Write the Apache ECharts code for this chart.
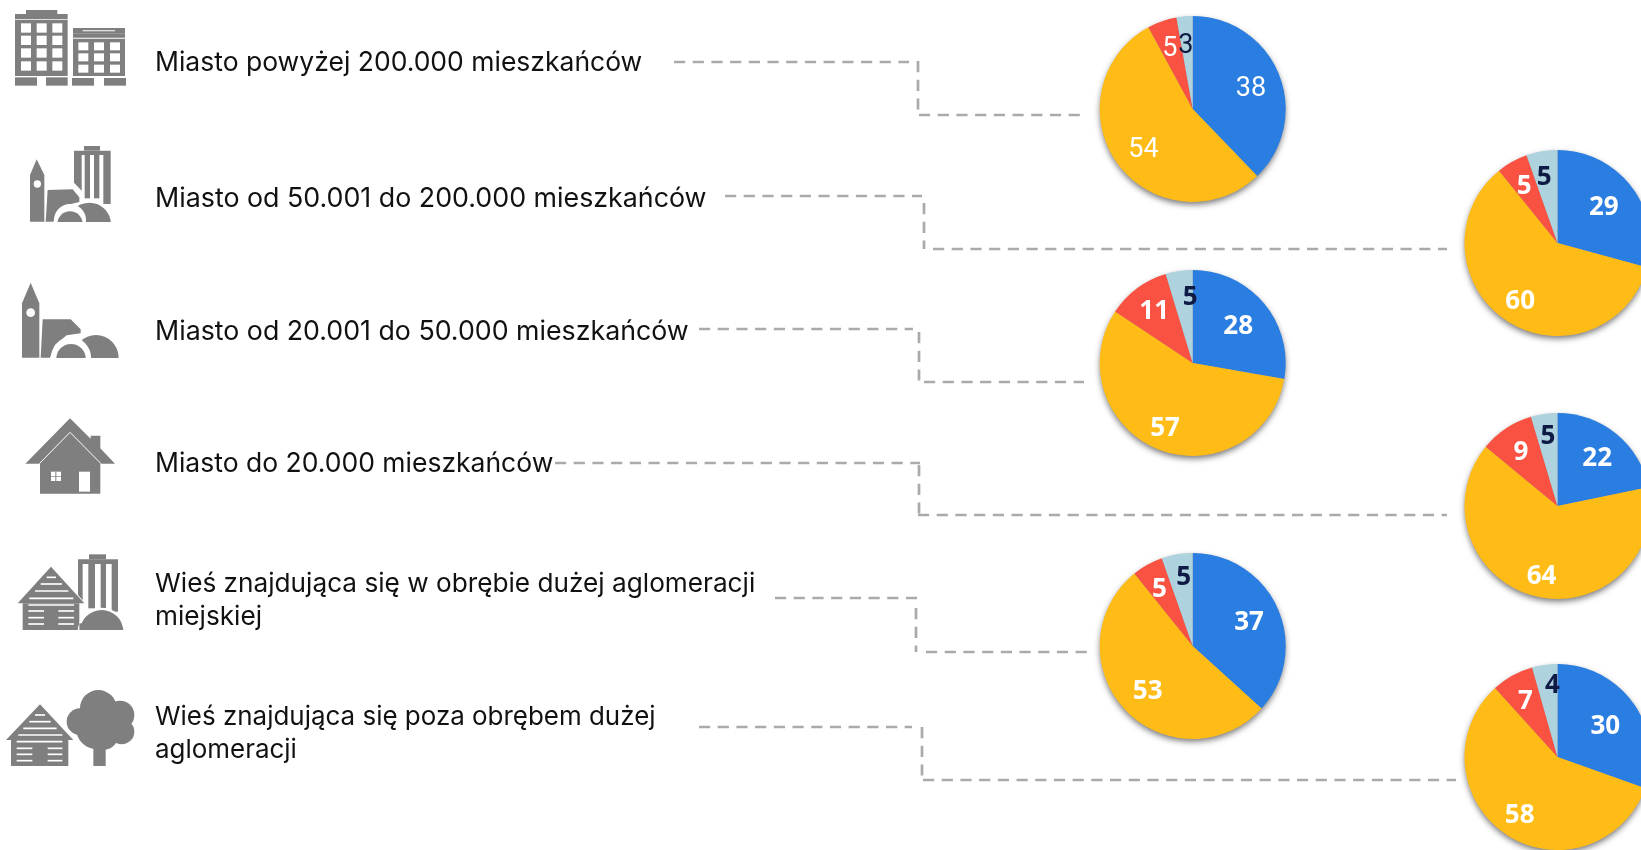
<!DOCTYPE html>
<html><head><meta charset="utf-8">
<style>html,body{margin:0;padding:0;background:#fff}#c{width:1641px;height:850px}</style>
<script src="https://cdn.jsdelivr.net/npm/echarts@6/dist/echarts.min.js"></script>
</head><body><div id="c"></div>
<script>
const categories = [
  'Miasto powyżej 200.000 mieszkańców',
  'Miasto od 50.001 do 200.000 mieszkańców',
  'Miasto od 20.001 do 50.000 mieszkańców',
  'Miasto do 20.000 mieszkańców',
  'Wieś znajdująca się w obrębie dużej aglomeracji\nmiejskiej',
  'Wieś znajdująca się poza obrębem dużej\naglomeracji'
];
// values; the printed labels are these values rounded
const blueValues   = [37.8, 29.2, 27.8, 21.7, 36.8, 30.4];
const yellowValues = [54.3, 59.9, 56.6, 64.1, 52.6, 57.8];
const redValues    = [ 5.1,  5.4, 11.0,  9.4,  5.4,  7.3];
const lightValues  = [ 2.8,  5.4,  4.7,  4.6,  5.4,  4.4];
const sliceColors = ['#2a7de1', '#ffbc17', '#f95142', '#aed3de'];
const labelColors = ['#ffffff', '#ffffff', '#ffffff', '#0f1b45'];

const pieCenters = [[1192.7,109],[1557.5,243],[1192.7,363],[1557.5,506],[1192.7,646],[1557.5,757]];
const R = 93;
const textY = [63.5,198.5,331.5,464.5,600.5,733.5];
const textSizes = [26.5,26.8,26.75,26.5,26.2,25.95];
// x0, y0, vertical x, y1, x1, end of first run, start of vertical, start of last run
const connectors = [
  [674,62,918,115,1080,909,61,919],[725,196,924,249,1447,922,203,933],[699,329,919,382,1084,913,332,924],
  [555,463,919,515,1447,920,465,918],[775,598,916,652,1087,917,608,926],[699,727,922,780,1456,912,727,923]
];
// small label shifts (px) from the mid-radius position, per slice
const labelShifts = [
  [[-3,5],[4,2],[-1,3],[-1,3]],
  [[-6,5],[-1,3],[-1,1],[-2,0]],
  [[-5,6],[-3,4],[1,2],[7,0]],
  [[-2,4],[0,6],[0,2],[0,-4]],
  [[-4,3],[3,0],[-1,1],[2,-3]],
  [[-6,7],[-1,3],[0,2],[4,-6]]
];

const GRAY = '#7f7f7f', W = '#ffffff';
const series = [];
pieCenters.forEach((center, i) => {
  const data = [blueValues[i], yellowValues[i], redValues[i], lightValues[i]];
  const base = {type:'pie', center, startAngle:90, clockwise:true, silent:true, animation:false,
    avoidLabelOverlap:false, labelLine:{show:false}, emphasis:{disabled:true}};
  series.push(Object.assign({}, base, {radius:[0,R-0.5], z:1, label:{show:false},
    data:[{value:1, itemStyle:{color:'#999', shadowBlur:6, shadowOffsetY:3, shadowOffsetX:0, shadowColor:'rgba(0,0,0,0.55)'}}]}));
  series.push(Object.assign({}, base, {radius:[0,R], z:2, label:{show:false},
    data:data.map((v,k)=>({value:v, itemStyle:{color:sliceColors[k]}}))}));
  series.push(Object.assign({}, base, {radius:[R*0.36,R], z:3,
    label:{show:true, position:'inside', formatter:p=>String(Math.round(p.value)),
      fontFamily: i===0 ? 'Roboto' : '"Open Sans"', fontWeight: i===0 ? 'normal':'bold', fontSize: i===0 ? 27 : 26},
    labelLayout:p=>({dx:labelShifts[i][p.dataIndex][0]*1.047, dy:labelShifts[i][p.dataIndex][1]*1.047}),
    data:data.map((v,k)=>({value:v, itemStyle:{color:'transparent'}, label:{color:labelColors[k]}}))}));
});

const g = [];
categories.forEach((t,i)=>{
  g.push({type:'text', x:155, y:textY[i], z:5, silent:true,
    style:{text:t, fill:'#111', font:'400 '+textSizes[i]+'px Inter', lineHeight:32.5, verticalAlign:'middle', textAlign:'left'}});
});
const dash = {stroke:'#aaaaaa', lineWidth:2.7, lineDash:[11.2,7.5], fill:'none'};
connectors.forEach(c=>{
  [[c[0],c[1],c[5],c[1]],[c[2],c[6],c[2],c[3]],[c[7],c[3],c[4],c[3]]].forEach(s=>{
    g.push({type:'line', silent:true, shape:{x1:s[0],y1:s[1],x2:s[2],y2:s[3]}, style:dash});
  });
});

// icons: drawn in zoom-pixel units (3x) with a page offset
function icon(oy, items){
  items.forEach(it=>{
    const [k,c]=[it[0],it[1]];
    const a=it.slice(2);
    if(k==='r') g.push({type:'rect',silent:true,shape:{x:a[0]/3,y:a[1]/3+oy,width:(a[2]-a[0])/3,height:(a[3]-a[1])/3},style:{fill:c}});
    if(k==='c') g.push({type:'circle',silent:true,shape:{cx:a[0]/3,cy:a[1]/3+oy,r:a[2]/3},style:{fill:c}});
    if(k==='p'){const pts=[];for(let j=0;j<a.length;j+=2)pts.push([a[j]/3,a[j+1]/3+oy]);g.push({type:'polygon',silent:true,shape:{points:pts},style:{fill:c}});}
    if(k==='l'){const pts=[];for(let j=0;j<a.length;j+=2)pts.push([a[j]/3,a[j+1]/3+oy]);g.push({type:'polyline',silent:true,shape:{points:pts},style:{stroke:c,lineWidth:1,fill:'none'}});}
  });
}
function grid(xs,ys,w,h){const o=[];xs.forEach(x=>ys.forEach(y=>o.push(['r',W,x,y,x+w,y+h])));return o;}
icon(0,[
  ['r',GRAY,78,30,172,42],['r',GRAY,45,42,203,58],['r',GRAY,45,60,203,228],
  ...grid([63,110,157],[70,107,145,184],30,28),
  ['r',GRAY,45,232,111,257],['r',GRAY,138,232,203,257],
  ['r',GRAY,219,84,375,100],['r',W,248,91,345,94],['r',GRAY,219,100,375,113],['r',GRAY,219,116,375,228],
  ...grid([235,282,330],[127,160,194],30,24),
  ['r',GRAY,216,234,282,257],['r',GRAY,312,234,378,257]
]);
icon(0,[
  ['r',GRAY,252,438,300,452],['r',GRAY,222,452,332,465],
  ['p',GRAY,222,465,245,465,245,572,222,548],['r',GRAY,254,465,270,595],['r',GRAY,282,465,298,595],['r',GRAY,310,465,332,612],
  ['c',GRAY,268,673,65],
  ['p',GRAY,90,665,90,525,110,478,133,525,133,665],['c',W,112,552,11],
  ['p',GRAY,137,665,143,570,218,568,238,592,238,606,200,615,170,640,160,665],
  ['c',W,210,660,48],['c',GRAY,210,672,38],
  ['r',W,80,666,340,750]
]);
icon(270,[
  ['p',GRAY,66,263,66,100,92,38,118,100,118,263],['c',W,92,128,13],
  ['c',GRAY,288,263,68],
  ['p',GRAY,122,263,128,148,212,148,242,178,242,190,200,196,165,225,150,263],
  ['c',W,213,262,60],['c',GRAY,213,266,44],
  ['r',W,60,264,362,345]
]);
icon(270,[
  ['p',GRAY,76,581,210,445,272,506,272,497,301,497,301,535,345,581],
  ['l',W,118,581,210,487,303,581],
  ['p',GRAY,120,582,210,491,301,582,301,671,120,671],
  ['r',W,153,605,183,633],['r',GRAY,166,605,169,633],['r',GRAY,153,618,183,620],
  ['r',W,237,605,270,665]
]);
function logHouse(ax,ay,lx,rx,top,walls,rows){
  const o=[['p',GRAY,lx,top,ax,ay,rx,top],['r',GRAY,walls[0],top,walls[1],walls[2]]];
  rows.forEach(r=>o.push(['r',W,r[0],r[2]-2.5,r[1],r[2]+2.5]));
  return o;
}
icon(540,[
  ['r',GRAY,267,43,318,58],['r',GRAY,234,58,354,72],
  ['p',GRAY,234,72,248,72,248,185,234,165],['r',GRAY,265,72,285,205],['r',GRAY,302,72,318,205],['r',GRAY,335,72,354,215],
  ['p',W,225,155,256,190,256,245,225,245],
  ...logHouse(153,80,53,253,190,[68,238,270],[[140,168,112],[122,186,132],[105,205,153],[88,220,175],[85,222,195],[85,132,213],[175,222,213],[85,132,233],[175,222,233],[85,132,252],[175,222,252]]),
  ['c',W,305,275,72],['c',GRAY,305,275,65],['r',GRAY,238,250,250,270],['r',W,225,270,380,355]
]);
icon(540,[
  ...logHouse(120,493,18,220,600,[33,205,678],[[105,135,525],[88,152,545],[70,170,565],[55,187,585],[50,187,605],[50,97,625],[143,187,625],[50,97,643],[143,187,643],[50,97,662],[143,187,662]]),
  ['c',GRAY,295,505,55],['c',GRAY,240,545,40],['c',GRAY,360,525,43],['c',GRAY,365,575,38],['c',GRAY,290,565,62],['c',GRAY,310,585,45],
  ['r',GRAY,280,600,317,678]
]);

const chart = echarts.init(document.getElementById('c'), null, {renderer:'canvas', width:1641, height:850});
chart.setOption({backgroundColor:'#fff', animation:false, series, graphic:{elements:g}});
</script></body></html>
